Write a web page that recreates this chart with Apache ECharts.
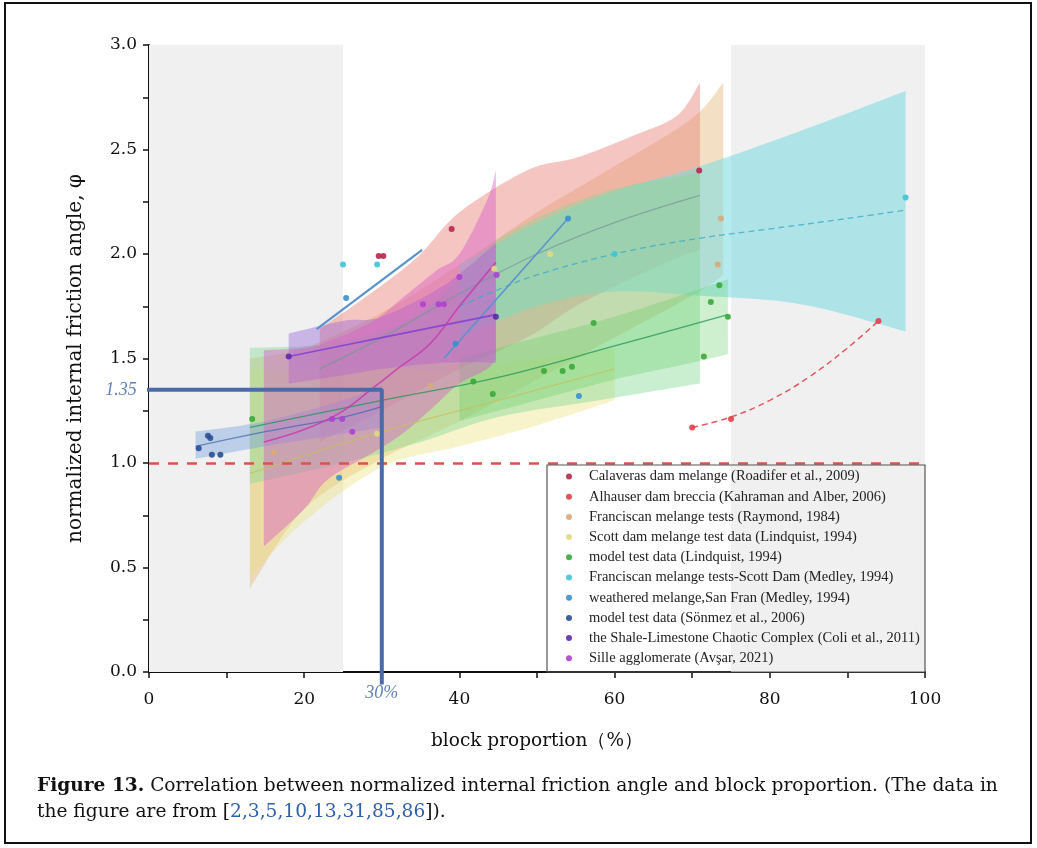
<!DOCTYPE html>
<html><head><meta charset="utf-8">
<script src="https://cdn.jsdelivr.net/npm/echarts@6/dist/echarts.min.js"></script>
<style>html,body{margin:0;padding:0;background:#fff}#c{width:1037px;height:848px}</style>
</head><body><div id="c"></div><script>
// ---------- data ----------
const names = [
  'Calaveras dam melange (Roadifer et al., 2009)',
  'Alhauser dam breccia (Kahraman and Alber, 2006)',
  'Franciscan melange tests (Raymond, 1984)',
  'Scott dam melange test data (Lindquist, 1994)',
  'model test data (Lindquist, 1994)',
  'Franciscan melange tests-Scott Dam (Medley, 1994)',
  'weathered melange,San Fran (Medley, 1994)',
  'model test data (Sönmez et al., 2006)',
  'the Shale-Limestone Chaotic Complex (Coli et al., 2011)',
  'Sille agglomerate (Avşar, 2021)'
];
const colors = ['#b5284e','#e0404a','#d9aa78','#e3d883','#3aa83a','#3cc6d6','#3a90d0','#2a4f90','#5a2aa8','#b040d0'];

// scatter points [block proportion %, normalized friction angle]
const ptsCalaveras = [[29.6,1.99],[30.2,1.99],[39,2.12],[70.9,2.40]];
const ptsAlhauser  = [[70,1.17],[75,1.21],[94,1.68]];
const ptsRaymond   = [[73.7,2.17],[73.3,1.95],[36.3,1.37],[16.1,1.05]];
const ptsScott     = [[29.4,1.14],[51.7,2.0],[44.5,1.93]];
const ptsLindquist = [[13.3,1.21],[41.8,1.39],[44.3,1.33],[50.9,1.44],[53.3,1.44],[54.5,1.46],[57.3,1.67],[71.5,1.51],[72.4,1.77],[73.5,1.85],[74.6,1.70]];
const ptsMedleyFS  = [[25,1.95],[29.4,1.95],[60,2.0],[97.5,2.27]];
const ptsWeathered = [[25.4,1.79],[24.5,0.93],[55.4,1.32],[54,2.17],[39.5,1.57]];
const ptsSonmez    = [[6.4,1.07],[7.6,1.13],[7.9,1.12],[8.1,1.04],[9.2,1.04]];
const ptsColi      = [[18,1.51],[44.7,1.70]];
const ptsSille     = [[23.6,1.21],[24.9,1.21],[26.2,1.15],[35.3,1.76],[37.3,1.76],[38,1.76],[40,1.89],[44.8,1.9]];
const allPoints = [ptsCalaveras,ptsAlhauser,ptsRaymond,ptsScott,ptsLindquist,ptsMedleyFS,ptsWeathered,ptsSonmez,ptsColi,ptsSille];

// fitted curves
const fitCalaveras = [[22,1.45],[30,1.6],[41,1.83],[50,2.0],[60,2.15],[71,2.28]];
const fitAlhauser  = [[70,1.17],[75,1.22],[80,1.3],[85,1.41],[90,1.55],[94,1.68]];
const fitScott     = [[13,0.95],[30,1.15],[45,1.3],[60,1.45]];
const fitLindquist = [[13,1.17],[30,1.3],[45,1.41],[60,1.56],[74.6,1.71]];
const fitMedleyFS  = [[40,1.75],[45,1.83],[50,1.9],[60,2.0],[70,2.07],[80,2.12],[90,2.17],[97.5,2.21]];
const fitWeathered1= [[21.6,1.64],[35.2,2.02]];
const fitWeathered2= [[38,1.5],[54,2.17]];
const fitSonmez    = [[6,1.08],[15,1.15],[25,1.22],[30,1.27]];
const fitColi      = [[18,1.51],[30,1.6],[44.7,1.71]];
const fitSille     = [[14.8,1.1],[20,1.16],[24.6,1.24],[28.9,1.36],[32,1.45],[36.2,1.57],[40,1.75],[44.7,1.96]];

// confidence bands [x, lower, upper]
const bandRaymond   = [[13,0.4,1.5],[20,0.78,1.55],[30,1.02,1.72],[40,1.2,1.95],[50,1.4,2.2],[60,1.6,2.42],[70,1.8,2.65],[74,1.9,2.82]];
const bandScott     = [[13,0.45,1.45],[20,0.72,1.45],[30,0.98,1.45],[40,1.08,1.45],[50,1.18,1.5],[60,1.3,1.55]];
const bandCalaveras = [[22,1.1,1.64],[30,1.25,1.85],[35,1.35,2.0],[40,1.45,2.2],[48.7,1.6,2.4],[55,1.75,2.46],[62,1.88,2.56],[68,1.98,2.66],[71,2.02,2.82]];
const bandMedleyFS  = [[40,1.6,1.95],[50,1.75,2.15],[60,1.82,2.3],[71,1.8,2.42],[84,1.76,2.59],[97.5,1.63,2.78]];
const bandLindquist = [[13,0.9,1.55],[25,1.0,1.58],[35,1.1,1.72],[45,1.22,2.07],[58,1.3,2.29],[71,1.38,2.39]];
const bandLindquist2= [[40,1.2,1.5],[50,1.3,1.6],[60,1.4,1.7],[70,1.48,1.82],[74.6,1.52,1.88]];
const bandSonmez    = [[6,1.02,1.15],[15,1.08,1.2],[25,1.14,1.3],[30,1.17,1.37]];
const bandColi      = [[18,1.38,1.62],[25,1.42,1.68],[30,1.45,1.7],[38,1.48,1.85],[44.7,1.48,2.05]];
const bandSille     = [[14.8,0.6,1.54],[20,0.78,1.55],[23,0.92,1.58],[28.9,1.05,1.68],[33,1.15,1.8],[37,1.28,1.92],[40,1.38,2.0],[43.6,1.45,2.26],[44.7,1.5,2.40]];

// reference annotations
const refLine = 1.0;
const annot = [[-1.2,1.35],[30,1.35],[30,-0.06]];
const shadeLeft = [0,25], shadeRight = [75,100];
const xTicks = {min:0,max:100,interval:20};
const yTicks = {min:0,max:3,interval:0.5};

// ---------- helpers ----------
const SERIF = 'Liberation Serif';
const WIDE = 'DejaVu Serif';
function curve(p){
  let s='';
  for(let i=0;i<p.length-1;i++){
    const p0=p[i-1]||p[i], p1=p[i], p2=p[i+1], p3=p[i+2]||p[i+1];
    const c1=[p1[0]+(p2[0]-p0[0])/6, p1[1]+(p2[1]-p0[1])/6];
    const c2=[p2[0]-(p3[0]-p1[0])/6, p2[1]-(p3[1]-p1[1])/6];
    s+=' C'+c1[0]+' '+c1[1]+' '+c2[0]+' '+c2[1]+' '+p2[0]+' '+p2[1];
  }
  return s;
}
function band(rows, fill){
  return {
    type:'custom', silent:true, z:2, data:rows, encode:{x:0,y:[1,2]},
    renderItem:function(params, api){
      if(params.dataIndex!==0) return null;
      const up=rows.map(r=>api.coord([r[0],r[2]]));
      const lo=rows.map(r=>api.coord([r[0],r[1]])).reverse();
      const d='M'+up[0][0]+' '+up[0][1]+curve(up)+' L'+lo[0][0]+' '+lo[0][1]+curve(lo)+' Z';
      return {type:'path', shape:{pathData:d}, style:{fill:fill, stroke:null}};
    }
  };
}
function fit(data, color, dashed, width){
  return {type:'line', data:data, smooth:0.4, showSymbol:false, silent:true, z:3,
    lineStyle:{color:color, width:width||1.3, type:dashed?[6,4]:'solid'}};
}

const series = [];
series.push({type:'line', data:[], silent:true, z:1,
  markArea:{silent:true, itemStyle:{color:'#f0f0f0'},
    data:[[{xAxis:shadeLeft[0],yAxis:yTicks.min},{xAxis:shadeLeft[1],yAxis:yTicks.max}],
          [{xAxis:shadeRight[0],yAxis:yTicks.min},{xAxis:shadeRight[1],yAxis:yTicks.max}]]}});
series.push(band(bandRaymond,'rgba(232,192,135,0.5)'));
series.push(band(bandScott,'rgba(236,226,125,0.4)'));
series.push(band(bandCalaveras,'rgba(236,140,132,0.5)'));
series.push(band(bandMedleyFS,'rgba(120,218,226,0.55)'));
series.push(band(bandLindquist,'rgba(135,218,150,0.45)'));
series.push(band(bandLindquist2,'rgba(95,205,95,0.3)'));
series.push(band(bandSonmez,'rgba(125,165,222,0.45)'));
series.push(band(bandColi,'rgba(145,95,215,0.4)'));
series.push(band(bandSille,'rgba(218,95,200,0.45)'));
series.push(fit(fitCalaveras,'rgba(120,150,150,0.7)'));
series.push(fit(fitAlhauser,'#e05a64',true,1.5));
series.push(fit(fitScott,'rgba(200,190,90,0.7)'));
series.push(fit(fitLindquist,'rgba(40,150,90,0.8)'));
series.push(fit(fitMedleyFS,'rgba(60,170,200,0.8)',true));
series.push(fit(fitWeathered1,'#5a93cc',false,2.2));
series.push(fit(fitWeathered2,'#5a93cc',false,1.6));
series.push(fit(fitSonmez,'rgba(60,100,170,0.7)'));
series.push(fit(fitColi,'rgba(130,60,210,0.85)',false,1.6));
series.push(fit(fitSille,'rgba(200,60,170,0.85)',false,1.6));
names.forEach((n,i)=>{
  series.push({type:'scatter', name:n, data:allPoints[i], symbolSize:6, z:4,
    itemStyle:{color:colors[i], opacity:0.9}});
});
series.push({type:'line', data:annot, z:6, showSymbol:false, symbol:'none', clip:false, silent:true,
  lineStyle:{color:'#4b6aa8', width:4},
  markLine:{silent:true, symbol:'none', label:{show:false},
    lineStyle:{color:'#d9534f', type:[10,9], width:2.5},
    data:[{yAxis:refLine}]},
});
series.push({type:'scatter', data:[
    {value:annot[0], label:{show:true, position:'left', distance:3, formatter:'1.35'}},
    {value:annot[2], label:{show:true, position:'bottom', distance:0, formatter:'30%'}}],
  symbolSize:0, z:7, silent:true, clip:false,
  label:{fontFamily:SERIF, fontStyle:'italic', fontSize:18, color:'#3a64a0'}});

const chart = echarts.init(document.getElementById('c'), null, {renderer:'canvas'});
chart.setOption({
  backgroundColor:'#fff',
  animation:false,
  grid:{left:149, top:45, width:776, height:627, containLabel:false},
  xAxis:{type:'value', min:xTicks.min, max:xTicks.max, interval:xTicks.interval,
    name:'block proportion（%）', nameLocation:'middle', nameGap:60,
    nameTextStyle:{fontFamily:WIDE, fontSize:18.5, color:'#111'},
    axisLine:{lineStyle:{color:'#111', width:2}},
    axisTick:{show:true, length:6, lineStyle:{color:'#111',width:1.5}},
    minorTick:{show:true, splitNumber:2, length:6, lineStyle:{color:'#111',width:1.5}},
    splitLine:{show:false},
    axisLabel:{fontFamily:WIDE, fontSize:17, color:'#111', margin:19}},
  yAxis:{type:'value', min:yTicks.min, max:yTicks.max, interval:yTicks.interval,
    name:'normalized internal friction angle, φ', nameLocation:'middle', nameGap:63,
    nameTextStyle:{fontFamily:WIDE, fontSize:20, color:'#111'},
    axisLine:{show:true, lineStyle:{color:'#111', width:2}},
    axisTick:{show:true, length:6, lineStyle:{color:'#111',width:1.5}},
    minorTick:{show:true, splitNumber:2, length:6, lineStyle:{color:'#111',width:1.5}},
    splitLine:{show:false},
    axisLabel:{fontFamily:WIDE, fontSize:17, color:'#111', margin:12,
      formatter:v=>v.toFixed(1)}},
  legend:{data:names, orient:'vertical', left:566, top:469, padding:0, itemGap:5.2,
    icon:'circle', itemWidth:30, itemHeight:6, selectedMode:false,
    textStyle:{fontFamily:SERIF, fontSize:14.5, color:'#222', lineHeight:14}},
  title:{left:37, top:773, padding:0,
    text:'{b|Figure 13.} Correlation between normalized internal friction angle and block proportion. (The data in\nthe figure are from [{l|2,3,5,10,13,31,85,86}]).',
    textStyle:{fontFamily:WIDE, fontSize:18.6, fontWeight:'normal', color:'#111', lineHeight:26,
      rich:{b:{fontFamily:WIDE, fontSize:18.6, fontWeight:'bold', color:'#111'},
            l:{fontFamily:WIDE, fontSize:18.6, color:'#2e5fa8'}}}},
  graphic:[
    {type:'rect', shape:{x:547, y:465, width:378, height:207}, style:{fill:null, stroke:'#555', lineWidth:1.2}, z:10, silent:true},
    {type:'rect', shape:{x:5, y:3, width:1026, height:840}, style:{fill:null, stroke:'#111', lineWidth:2}, z:10, silent:true}
  ],
  series:series
});
</script></body></html>
